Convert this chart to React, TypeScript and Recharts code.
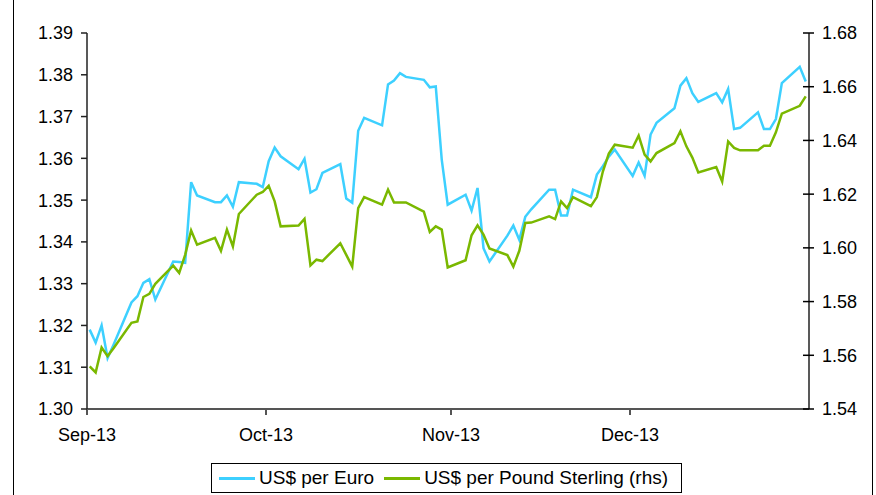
import React from 'react';
import { LineChart, Line, XAxis, YAxis } from 'recharts';

// business days of each month (2013)
const sepDays = [2, 3, 4, 5, 6, 9, 10, 11, 12, 13, 16, 17, 18, 19, 20, 23, 24, 25, 26, 27, 30];
const octDays = [1, 2, 3, 4, 7, 8, 9, 10, 11, 14, 15, 16, 17, 18, 21, 22, 23, 24, 25, 28, 29, 30, 31];
const novDays = [1, 4, 5, 6, 7, 8, 11, 12, 13, 14, 15, 18, 19, 20, 21, 22, 25, 26, 27, 28, 29];
const decDays = [2, 3, 4, 5, 6, 9, 10, 11, 12, 13, 16, 17, 18, 19, 20, 23, 24, 25, 26, 27, 30, 31];

const usdPerEuro = [
  1.3190, 1.3159, 1.3200, 1.3122, 1.3154, 1.3255, 1.3270, 1.3302, 1.3311, 1.3262, 1.3353,
  1.3352, 1.3350, 1.3543, 1.3511, 1.3495, 1.3495, 1.3511, 1.3484, 1.3543, 1.3539,
  1.3531, 1.3593, 1.3626, 1.3605, 1.3574, 1.3599, 1.3518, 1.3526, 1.3565, 1.3586, 1.3504,
  1.3494, 1.3666, 1.3697, 1.3679, 1.3777, 1.3786, 1.3804, 1.3795, 1.3788, 1.3770, 1.3772, 1.3597,
  1.3489, 1.3513, 1.3475, 1.3529, 1.3385, 1.3353, 1.3415, 1.3439, 1.3405, 1.3460, 1.3478,
  1.3525, 1.3525, 1.3463, 1.3463, 1.3525, 1.3507, 1.3561, 1.3581, 1.3604, 1.3621,
  1.3558, 1.3590, 1.3558, 1.3657, 1.3685, 1.3720, 1.3774, 1.3792, 1.3756, 1.3735, 1.3756,
  1.3734, 1.3766, 1.3670, 1.3673, 1.3710, 1.3670, 1.3670, 1.3694, 1.3780, 1.3819, 1.3784,
];

const usdPerSterling = [
  1.5559, 1.5536, 1.5629, 1.5597, 1.5626, 1.5721, 1.5726, 1.5817, 1.5829, 1.5866, 1.5934,
  1.5907, 1.5974, 1.6065, 1.6012, 1.6037, 1.5989, 1.6068, 1.6005, 1.6126, 1.6198,
  1.6208, 1.6231, 1.6173, 1.6080, 1.6083, 1.6108, 1.5935, 1.5956, 1.5951, 1.6017, 1.5974,
  1.5930, 1.6148, 1.6189, 1.6161, 1.6217, 1.6169, 1.6169, 1.6169, 1.6135, 1.6059, 1.6080, 1.6068,
  1.5927, 1.5954, 1.6047, 1.6084, 1.6049, 1.5998, 1.5973, 1.5930, 1.5989, 1.6093, 1.6094,
  1.6117, 1.6107, 1.6173, 1.6148, 1.6189, 1.6155, 1.6189, 1.6284, 1.6351, 1.6384,
  1.6373, 1.6418, 1.6347, 1.6322, 1.6353, 1.6390, 1.6434, 1.6378, 1.6336, 1.6281, 1.6301,
  1.6247, 1.6396, 1.6372, 1.6363, 1.6363, 1.6380, 1.6380, 1.6430, 1.6500, 1.6529, 1.6564,
];

const monthLabels = ['Sep-13', 'Oct-13', 'Nov-13', 'Dec-13'];
const euroTicks = [1.30, 1.31, 1.32, 1.33, 1.34, 1.35, 1.36, 1.37, 1.38, 1.39];
const sterlingTicks = [1.54, 1.56, 1.58, 1.60, 1.62, 1.64, 1.66, 1.68];

const EURO_COLOR = '#3DD0FF';
const GBP_COLOR = '#7AB800';
const FONT = '"Liberation Sans", Arial, sans-serif';

const start = Date.UTC(2013, 8, 1);
const dayOf = (month: number, d: number) => (Date.UTC(2013, month, d) - start) / 86400000;
// the source plots each daily point a little left of its date
const SHIFT = 0.55;

const dates = [
  ...sepDays.map((d) => dayOf(8, d)),
  ...octDays.map((d) => dayOf(9, d)),
  ...novDays.map((d) => dayOf(10, d)),
  ...decDays.map((d) => dayOf(11, d)),
];

const data = dates.map((day, i) => ({
  day: day - SHIFT,
  euro: usdPerEuro[i],
  sterling: usdPerSterling[i],
}));

const monthStarts = [8, 9, 10, 11].map((m) => dayOf(m, 1));
const axisEnd = dayOf(11, 31);

const RightTick = (props: any) => {
  const { x, y, payload } = props;
  return (
    <g>
      <line x1={x - 6} x2={x + 5} y1={y} y2={y} stroke="#000" strokeWidth={1.5} />
      <text x={x + 13} y={y} dy="0.36em" fontSize={18} fill="#000" fontFamily={FONT}>
        {payload.value.toFixed(2)}
      </text>
    </g>
  );
};

const LegendItem = ({ color, label }: { color: string; label: string }) => (
  <div style={{ display: 'flex', alignItems: 'center' }}>
    <div style={{ width: 36, height: 3, background: color, marginRight: 4 }} />
    <span>{label}</span>
  </div>
);

export default function App() {
  return (
    <div
      style={{
        position: 'absolute',
        left: 0,
        top: 0,
        width: 876,
        height: 495,
        overflow: 'hidden',
        background: '#fff',
        fontFamily: FONT,
      }}
    >
      <div
        style={{
          position: 'absolute',
          left: 13,
          top: -2,
          width: 858,
          height: 520,
          border: '1px solid #000',
        }}
      />
      <LineChart
        width={876}
        height={495}
        data={data}
        margin={{ top: 33, right: 0, bottom: 0, left: 0 }}
        style={{ position: 'absolute', left: 0, top: 0 }}
      >
        <XAxis
          dataKey="day"
          type="number"
          domain={[0, axisEnd]}
          ticks={monthStarts}
          tickFormatter={(v: number) => monthLabels[monthStarts.indexOf(v)]}
          height={86}
          tickSize={6}
          tickMargin={13}
          stroke="#555"
          strokeWidth={2}
          tick={{ fill: '#000', fontSize: 18, fontFamily: FONT }}
          interval={0}
        />
        <YAxis
          yAxisId="left"
          domain={[1.3, 1.39]}
          ticks={euroTicks}
          tickFormatter={(v: number) => v.toFixed(2)}
          width={87}
          tickSize={6}
          tickMargin={8}
          stroke="#222"
          strokeWidth={1.5}
          tick={{ fill: '#000', fontSize: 18, fontFamily: FONT }}
          interval={0}
        />
        <YAxis
          yAxisId="right"
          orientation="right"
          domain={[1.54, 1.68]}
          ticks={sterlingTicks}
          width={67}
          tickSize={0}
          tickMargin={0}
          tickLine={false}
          stroke="#222"
          strokeWidth={1.5}
          tick={<RightTick />}
          interval={0}
        />
        <Line
          yAxisId="left"
          dataKey="euro"
          stroke={EURO_COLOR}
          strokeWidth={2.5}
          dot={false}
          type="linear"
          isAnimationActive={false}
        />
        <Line
          yAxisId="right"
          dataKey="sterling"
          stroke={GBP_COLOR}
          strokeWidth={2.5}
          dot={false}
          type="linear"
          isAnimationActive={false}
        />
      </LineChart>
      <div
        style={{
          position: 'absolute',
          left: 211,
          top: 463,
          width: 471,
          height: 30,
          border: '1px solid #000',
          display: 'flex',
          alignItems: 'center',
          paddingLeft: 7,
          boxSizing: 'border-box',
          gap: 10,
          fontSize: 19,
          color: '#000',
        }}
      >
        <LegendItem color={EURO_COLOR} label="US$ per Euro" />
        <LegendItem color={GBP_COLOR} label="US$ per Pound Sterling (rhs)" />
      </div>
    </div>
  );
}
